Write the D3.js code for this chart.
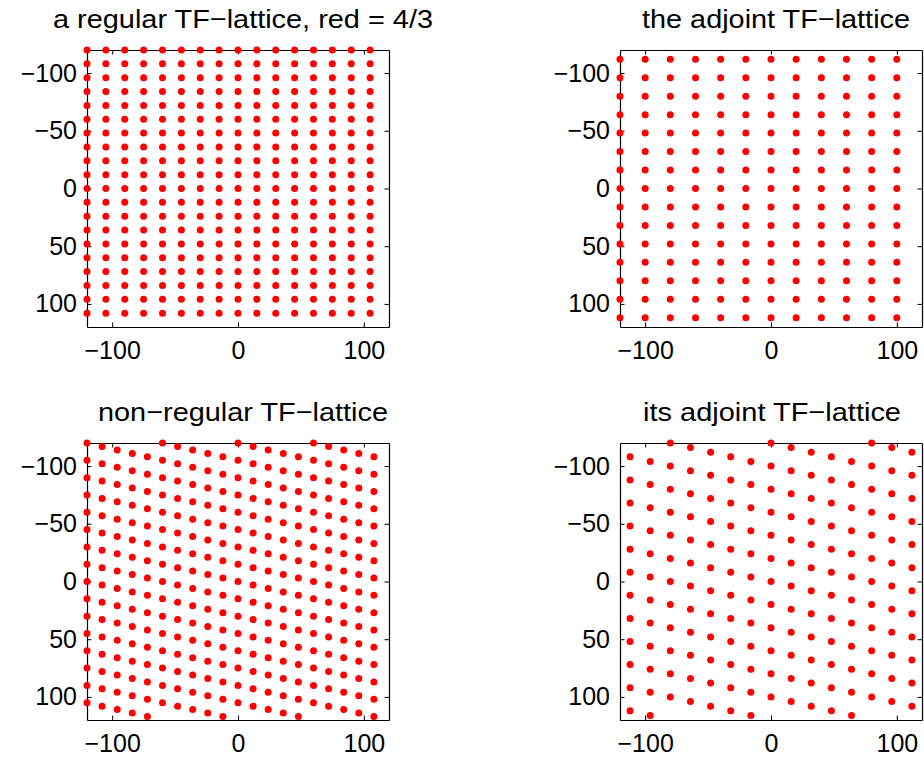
<!DOCTYPE html>
<html>
<head>
<meta charset="utf-8">
<script src="https://cdn.jsdelivr.net/npm/d3@7"></script>
<style>
  body { margin: 0; background: #fff; }
  text { font-family: "Liberation Sans", Arial, sans-serif; fill: #000; }
</style>
</head>
<body>
<div id="chart"></div>
<script>
// 规则格点 (a=15, b=12)
const regCols = [-120, -105, -90, -75, -60, -45, -30, -15, 0, 15, 30, 45, 60, 75, 90, 105];
const regRows = [-120, -108, -96, -84, -72, -60, -48, -36, -24, -12, 0, 12, 24, 36, 48, 60, 72, 84, 96, 108];
// 伴随格点
const adjCols = [-120, -100, -80, -60, -40, -20, 0, 20, 40, 60, 80, 100];
const adjRows = [-112, -96, -80, -64, -48, -32, -16, 0, 16, 32, 48, 64, 80, 96, 112];
// 非规则格点: 每列的竖直偏移
const nonCols = [-120, -108, -96, -84, -72, -60, -48, -36, -24, -12, 0, 12, 24, 36, 48, 60, 72, 84, 96, 108];
const nonShift = [0, 3, 6, 9, 12, 0, 3, 6, 9, 12, 0, 3, 6, 9, 12, 0, 3, 6, 9, 12];
const nonRows = [-120, -105, -90, -75, -60, -45, -30, -15, 0, 15, 30, 45, 60, 75, 90, 105];
// 其伴随格点
const itsCols = [-112, -96, -80, -64, -48, -32, -16, 0, 16, 32, 48, 64, 80, 96, 112];
const itsShift = [12, 16, 0, 4, 8, 12, 16, 0, 4, 8, 12, 16, 0, 4, 8];
const itsRows = [-120, -100, -80, -60, -40, -20, 0, 20, 40, 60, 80, 100];

const xTicks = [-100, 0, 100];
const yTicks = [-100, -50, 0, 50, 100];
const titles = ["a regular TF\u2212lattice, red = 4/3", "the adjoint TF\u2212lattice",
                "non\u2212regular TF\u2212lattice", "its adjoint TF\u2212lattice"];

const W = 924, H = 758;
const svg = d3.select("#chart").append("svg").attr("width", W).attr("height", H);

// 网格 -> 点
function grid(cols, rows, shift) {
    const pts = [];
    cols.forEach((x, i) => rows.forEach((y) => pts.push([x, y + (shift ? shift[i] : 0)])));
    return pts;
}

// tw: 标题宽度, tdx: 标题水平偏移 (参考图中量得)
const panels = [
    { left: 87, top: 50, pts: grid(regCols, regRows), title: titles[0], tw: 380, tdx: 5 },
    { left: 620, top: 50, pts: grid(adjCols, adjRows), title: titles[1], tw: 268, tdx: 5 },
    { left: 87, top: 443, pts: grid(nonCols, nonRows, nonShift), title: titles[2], tw: 290, tdx: 5 },
    { left: 620, top: 443, pts: grid(itsCols, itsRows, itsShift), title: titles[3], tw: 258, tdx: 1 }
];
const pw = 302, ph = 277, fs = 25, tick = 4.5;

panels.forEach((p) => {
    const g = svg.append("g").attr("transform", `translate(${p.left},${p.top})`);
    const x = d3.scaleLinear().domain([-120, 120]).range([0, pw]);
    const y = d3.scaleLinear().domain([-120, 120]).range([0, ph]);

    // 坐标轴 (刻度向内, 四边)
    const axes = [
        [d3.axisBottom(x).tickValues(xTicks), 0, ph, 14],
        [d3.axisTop(x).tickValues(xTicks), 0, 0, 0],
        [d3.axisLeft(y).tickValues(yTicks), 0, 0, 10],
        [d3.axisRight(y).tickValues(yTicks), pw, 0, 0]
    ];
    axes.forEach(([ax, dx, dy, pad]) => {
        const a = g.append("g").attr("transform", `translate(${dx},${dy})`)
            .call(ax.tickSizeInner(-tick).tickSizeOuter(0).tickPadding(pad)
                .tickFormat(pad ? (d) => (d < 0 ? "\u2212" + Math.abs(d) : d) : ""));
        a.select(".domain").attr("stroke", "#000").attr("stroke-width", 1.2);
        a.selectAll(".tick line").attr("stroke", "#000");
        a.selectAll("text").style("font-size", fs + "px").attr("font-family", null);
    });

    g.append("text")
        .attr("x", pw / 2 + p.tdx)
        .attr("y", -22)
        .attr("text-anchor", "middle")
        .attr("textLength", p.tw)
        .attr("lengthAdjust", "spacingAndGlyphs")
        .style("font-size", "26px")
        .text(p.title);

    g.selectAll("circle.pt").data(p.pts).join("circle")
        .attr("class", "pt")
        .attr("cx", (d) => x(d[0]))
        .attr("cy", (d) => y(d[1]))
        .attr("r", 3.5)
        .attr("fill", "#ff0000");
});
</script>
</body>
</html>
